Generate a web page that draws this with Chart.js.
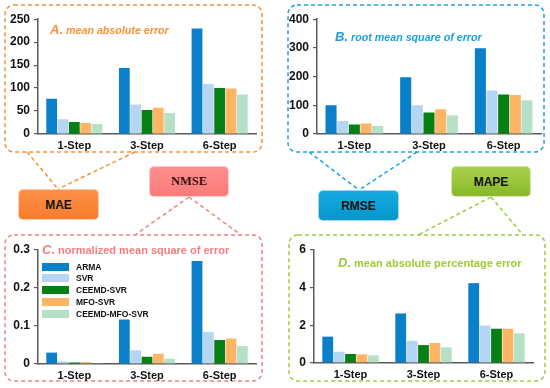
<!DOCTYPE html>
<html>
<head>
<meta charset="utf-8">
<script src="https://cdn.jsdelivr.net/npm/chart.js@4.4.1/dist/chart.umd.min.js"></script>
<style>
  body { margin: 0; background: #fff; }
  #wrap { position: relative; width: 550px; height: 388px; overflow: hidden; font-family: "Liberation Sans", Arial, sans-serif; }
  #deco { position: absolute; left: 0; top: 0; }
  canvas { position: absolute; }
  .title { position: absolute; white-space: nowrap; font-weight: bold; line-height: 14px; }
  .title .lead { font-style: italic; font-size: 13px; margin-right: 3px; }
  .tag { position: absolute; border-radius: 5px; font-weight: bold; font-size: 12px; color: #111;
         display: flex; align-items: center; justify-content: center; box-sizing: border-box; border: 1px solid rgba(255,255,255,0.6); }
  #legend { position: absolute; left: 42px; top: 263px; }
  .leg-row { position: absolute; left: 0; height: 12px; white-space: nowrap; }
  .leg-sw { position: absolute; left: 0; top: 0; width: 27px; height: 8px; }
  .leg-tx { position: absolute; left: 34px; top: -2px; font-size: 8.5px; font-weight: bold; color: #111; line-height: 12px; }
</style>
</head>
<body>
<div id="wrap">
  <svg id="deco" width="550" height="388">
    <g fill="none" stroke-width="1.5" stroke-dasharray="4 3">
      <rect x="5" y="5" width="257" height="147" rx="9" stroke="#f7923a"/>
      <line x1="27" y1="152" x2="58" y2="189" stroke="#f7923a"/>
      <line x1="135" y1="152" x2="58" y2="189" stroke="#f7923a"/>

      <rect x="288" y="5" width="256" height="147" rx="9" stroke="#1ba5dd"/>
      <line x1="309" y1="152" x2="359" y2="190" stroke="#1ba5dd"/>
      <line x1="417" y1="152" x2="359" y2="190" stroke="#1ba5dd"/>

      <rect x="5" y="235" width="257" height="146" rx="9" stroke="#f48383"/>
      <line x1="189" y1="197" x2="135" y2="235" stroke="#f48383"/>
      <line x1="189" y1="197" x2="241" y2="235" stroke="#f48383"/>

      <rect x="289" y="235" width="256" height="146" rx="9" stroke="#9ccc3a"/>
      <line x1="491" y1="197" x2="418" y2="235" stroke="#9ccc3a"/>
      <line x1="491" y1="197" x2="523" y2="235" stroke="#9ccc3a"/>
    </g>
  </svg>

  <canvas id="mae-chart"></canvas>
  <canvas id="rmse-chart"></canvas>
  <canvas id="nmse-chart"></canvas>
  <canvas id="mape-chart"></canvas>

  <div class="title" style="left:50px; top:23px; color:#f7923a; font-style:italic; font-size:10.7px;"><span class="lead">A.</span>mean absolute error</div>
  <div class="title" style="left:335px; top:30px; color:#1ba1dd; font-style:italic; font-size:10.7px;"><span class="lead">B.</span>root mean square of error</div>
  <div class="title" style="left:42px; top:243px; color:#f47e7e; font-size:11px;"><span class="lead">C.</span>normalized mean square of error</div>
  <div class="title" style="left:338px; top:256px; color:#9acd32; font-size:11px;"><span class="lead">D.</span>mean absolute percentage error</div>

  <div id="legend"></div>

  <div class="tag" style="left:18px; top:189px; width:81px; height:31px; background:linear-gradient(#ff9248, #f67b2b);">MAE</div>
  <div class="tag" style="left:149px; top:166px; width:80px; height:31px; background:linear-gradient(#ff8e8e, #fc7b7b); font-family:'Liberation Serif','Times New Roman',serif; color:#3a1010; font-size:12.5px;">NMSE</div>
  <div class="tag" style="left:318px; top:190px; width:81px; height:31px; background:linear-gradient(#16abe0, #0396cc);">RMSE</div>
  <div class="tag" style="left:451px; top:166px; width:80px; height:31px; background:linear-gradient(#a9d24c, #88b829);">MAPE</div>
</div>

<script>
const categories = ['1-Step', '3-Step', '6-Step'];
const models = ['ARMA', 'SVR', 'CEEMD-SVR', 'MFO-SVR', 'CEEMD-MFO-SVR'];
const modelColors = ['#0a7fca', '#b4d6f3', '#067f14', '#ffb466', '#b7e0c8'];

// one row per model, one value per step
const maeValues = [
  [77, 144, 230],
  [32, 64, 109],
  [26, 52, 100],
  [24, 57, 99],
  [22, 46, 86]
];
const rmseValues = [
  [100, 198, 299],
  [45, 100, 152],
  [33, 75, 138],
  [37, 86, 136],
  [28, 65, 118]
];
const nmseValues = [
  [0.030, 0.117, 0.271],
  [0.007, 0.036, 0.084],
  [0.004, 0.019, 0.063],
  [0.005, 0.027, 0.067],
  [0.002, 0.014, 0.047]
];
const mapeValues = [
  [1.40, 2.63, 4.24],
  [0.60, 1.18, 1.99],
  [0.48, 0.95, 1.82],
  [0.46, 1.06, 1.82],
  [0.41, 0.83, 1.57]
];

const maeTicks = [0, 50, 100, 150, 200, 250];
const rmseTicks = [0, 100, 200, 300, 400];
const nmseTicks = [0, 0.1, 0.2, 0.3];
const nmseTickText = ['0', '0.1', '0.2', '0.3'];
const mapeTicks = [0, 2, 4, 6];

const fontFamily = '"Liberation Sans", Arial, sans-serif';
const axisColor = '#5a5a5a';

function drawPanel(canvasId, values, ticks, tickText, box) {
  const cv = document.getElementById(canvasId);
  cv.width = box.w;
  cv.height = box.h;
  cv.style.left = box.left + 'px';
  cv.style.top = box.top + 'px';

  new Chart(cv, {
    type: 'bar',
    data: {
      labels: categories,
      datasets: models.map((m, i) => ({
        label: m,
        data: values[i],
        backgroundColor: modelColors[i],
        borderWidth: 0,
        barPercentage: 0.95,
        categoryPercentage: 0.78
      }))
    },
    options: {
      responsive: false,
      animation: false,
      devicePixelRatio: 1,
      layout: {
        padding: { top: box.T - box.top, right: box.left + box.w - box.R, left: 0, bottom: 0 }
      },
      plugins: { legend: { display: false }, tooltip: { enabled: false } },
      scales: {
        x: {
          grid: { display: false, drawTicks: false },
          border: { color: axisColor, width: 1.5 },
          ticks: { color: '#111', font: { family: fontFamily, size: 11, weight: 'bold' }, padding: 5 },
          afterFit: (s) => { s.height = box.top + box.h - box.B; }
        },
        y: {
          min: 0,
          max: ticks[ticks.length - 1],
          afterBuildTicks: (s) => { s.ticks = ticks.map(v => ({ value: v })); },
          grid: { display: true, drawOnChartArea: false, drawTicks: true, tickLength: 4, color: axisColor, lineWidth: 1.2 },
          border: { color: axisColor, width: 1.5 },
          ticks: {
            color: '#111',
            font: { family: fontFamily, size: 12, weight: 'bold' },
            padding: 4,
            callback: (v, i) => tickText ? tickText[i] : String(v)
          },
          afterFit: (s) => { s.width = box.L - box.left; }
        }
      }
    }
  });
}

drawPanel('mae-chart', maeValues, maeTicks, null,
  { left: 0, top: 8, w: 262, h: 150, L: 38, R: 256, T: 17, B: 134 });
drawPanel('rmse-chart', rmseValues, rmseTicks, null,
  { left: 285, top: 8, w: 260, h: 150, L: 317, R: 541, T: 17, B: 134 });
drawPanel('nmse-chart', nmseValues, nmseTicks, nmseTickText,
  { left: 0, top: 238, w: 262, h: 148, L: 38, R: 256, T: 250, B: 364 });
drawPanel('mape-chart', mapeValues, mapeTicks, null,
  { left: 285, top: 238, w: 260, h: 148, L: 314, R: 533, T: 250, B: 363 });

// legend for panel C
const legendEl = document.getElementById('legend');
const legendRows = [0, 11, 23, 35, 47];
legendEl.innerHTML = models.map((m, i) => `
  <div class="leg-row" style="top:${legendRows[i]}px">
    <div class="leg-sw" style="background:${modelColors[i]}"></div>
    <div class="leg-tx">${m}</div>
  </div>`).join('');
</script>
</body>
</html>
